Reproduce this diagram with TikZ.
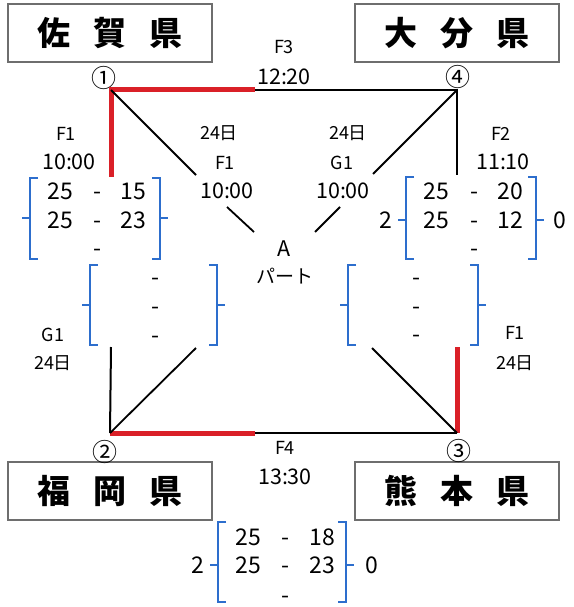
\documentclass[tikz,border=0pt]{standalone}
\usepackage{fontspec}
\setmainfont{Noto Sans CJK JP}
\definecolor{myred}{RGB}{218,32,40}
\definecolor{myblue}{RGB}{45,110,205}
\definecolor{boxgray}{RGB}{110,110,110}
\newcommand\scbracket[5]{%
  \draw[brk] ($(#1,#3)+(8,0)$) -- (#1,#3) -- (#1,#4) -- ($(#1,#4)+(8,0)$);
  \draw[brk] (#1,#5) -- ($(#1,#5)+(-8,0)$);
  \draw[brk] ($(#2,#3)+(-8,0)$) -- (#2,#3) -- (#2,#4) -- ($(#2,#4)+(-8,0)$);
  \draw[brk] (#2,#5) -- ($(#2,#5)+(8,0)$);}
\usetikzlibrary{calc}
\begin{document}
\begin{tikzpicture}[x=1pt,y=-1pt,
  pref/.style={draw=boxgray, line width=1.6pt, fill=white, minimum width=204pt, minimum height=58pt, inner sep=0pt, font=\fontsize{33}{33}\selectfont\bfseries},
  lbl/.style={inner sep=0pt, text height=13.2pt, text depth=0pt, font=\fontsize{18}{18}\selectfont},
  tm/.style={inner sep=0pt, text height=15.8pt, text depth=0pt, font=\fontsize{21.5}{21.5}\selectfont},
  sc/.style={inner sep=0pt, text height=16.9pt, text depth=0pt, font=\fontsize{23}{23}\selectfont},
  circ/.style={inner sep=0pt, font=\fontsize{25}{25}\selectfont},
  blk/.style={line width=2pt, black},
  dia/.style={line width=1.8pt, black},
  redl/.style={line width=5pt, myred, line join=miter},
  brk/.style={line width=1.6pt, myblue}]
\useasboundingbox (0,0) rectangle (573,607);
\fill[white] (0,0) rectangle (573,607);

% prefecture boxes
\node[pref] (saga) at (110,33) {佐\hspace{23pt}賀\hspace{23pt}県};
\node[pref] (oita) at (457,33) {大\hspace{23pt}分\hspace{23pt}県};
\node[pref] (fuku) at (110,491) {福\hspace{23pt}岡\hspace{23pt}県};
\node[pref] (kuma) at (457,491) {熊\hspace{23pt}本\hspace{23pt}県};

% corners
\coordinate (c1) at (111,90);
\coordinate (c4) at (457,90);
\coordinate (c2) at (110,433);
\coordinate (c3) at (457,433);
\node[circ] (n1) at (104,78) {①};
\node[circ] (n4) at (458,77) {④};
\node[circ] (n2) at (105,452) {②};
\node[circ] (n3) at (459,451) {③};

% edge break points
\coordinate (tm) at (255,90);
\coordinate (bm) at (255,433);
\coordinate (l1) at (111,177);
\coordinate (l2) at (111,347);
\coordinate (r1) at (457,175);
\coordinate (r2) at (457,347);

% black edges
\draw[blk] (tm) -- (c4) -- (r1);
\draw[blk] (l2) -- (c2);
\draw[blk] (bm) -- (c3);
% red edges
\draw[redl] (tm) -- (c1) -- (l1);
\draw[redl] (c2) -- (bm);
\draw[redl] (r2) -- (c3);

% diagonals
\coordinate (d1a) at (196,175);
\coordinate (d1b) at (227,207);
\coordinate (d1c) at (254,232);
\coordinate (d4a) at (373,174);
\coordinate (d4b) at (340,207);
\coordinate (d4c) at (315,232);
\coordinate (d2a) at (196,348);
\coordinate (d3a) at (372,348);
\draw[dia] (c1) -- (d1a);
\draw[dia] (d1b) -- (d1c);
\draw[dia] (c4) -- (d4a);
\draw[dia] (d4b) -- (d4c);
\draw[dia] (c2) -- (d2a);
\draw[dia] (c3) -- (d3a);

% labels
\node[lbl] (f3) at (284,47) {F3};
\node[tm] (t3) at (284,77) {12:20};
\node[lbl] (f1a) at (66,134) {F1};
\node[tm] (t1a) at (69,162) {10:00};
\node[lbl] (d24a) at (219,133) {24日};
\node[lbl] (f1b) at (225,163) {F1};
\node[tm] (t1b) at (227,191) {10:00};
\node[lbl] (d24b) at (348,133) {24日};
\node[lbl] (g1a) at (342,163) {G1};
\node[tm] (t1c) at (343,191) {10:00};
\node[lbl] (f2) at (501,134) {F2};
\node[tm] (t2) at (503,162) {11:10};
\node[tm] (pa) at (284,249) {A};
\node[lbl, font=\fontsize{19}{19}\selectfont] (pb) at (285,277) {パート};
\node[lbl] (g1b) at (53,335) {G1};
\node[lbl] (d24c) at (53,363) {24日};
\node[lbl] (f1c) at (515,333) {F1};
\node[lbl] (d24d) at (515,363) {24日};
\node[lbl] (f4) at (285,448) {F4};
\node[tm] (t4) at (285,477) {13:30};

% score brackets
\scbracket{30}{160}{178}{259}{218}
\scbracket{90}{217}{265}{345}{305}
\scbracket{406}{536}{177}{259}{220}
\scbracket{348}{478}{265}{345}{305}
\scbracket{218}{346}{522}{602}{565}

% scores: left top
\node[sc] (s1a) at (60,191) {25};
\node[sc] (s1b) at (97,191) {-};
\node[sc] (s1c) at (133,191) {15};
\node[sc] (s2a) at (60,220) {25};
\node[sc] (s2b) at (97,220) {-};
\node[sc] (s2c) at (133,220) {23};
\node[sc] (s3b) at (97,248) {-};
% left middle
\node[sc] (m1) at (155,277) {-};
\node[sc] (m2) at (155,306) {-};
\node[sc] (m3) at (155,335) {-};
% right top
\node[sc] (r2l) at (386,220) {2};
\node[sc] (r0r) at (560,220) {0};
\node[sc] (u1a) at (436,191) {25};
\node[sc] (u1b) at (474,191) {-};
\node[sc] (u1c) at (510,191) {20};
\node[sc] (u2a) at (436,220) {25};
\node[sc] (u2b) at (474,220) {-};
\node[sc] (u2c) at (510,220) {12};
\node[sc] (u3b) at (474,248) {-};
% right middle
\node[sc] (q1) at (416,277) {-};
\node[sc] (q2) at (416,306) {-};
\node[sc] (q3) at (416,334) {-};
% bottom
\node[sc] (b2) at (198,565) {2};
\node[sc] (b0) at (372,565) {0};
\node[sc] (v1a) at (248,537) {25};
\node[sc] (v1b) at (285,537) {-};
\node[sc] (v1c) at (322,537) {18};
\node[sc] (v2a) at (248,565) {25};
\node[sc] (v2b) at (285,565) {-};
\node[sc] (v2c) at (322,565) {23};
\node[sc] (v3b) at (285,595) {-};
\end{tikzpicture}
\end{document}
